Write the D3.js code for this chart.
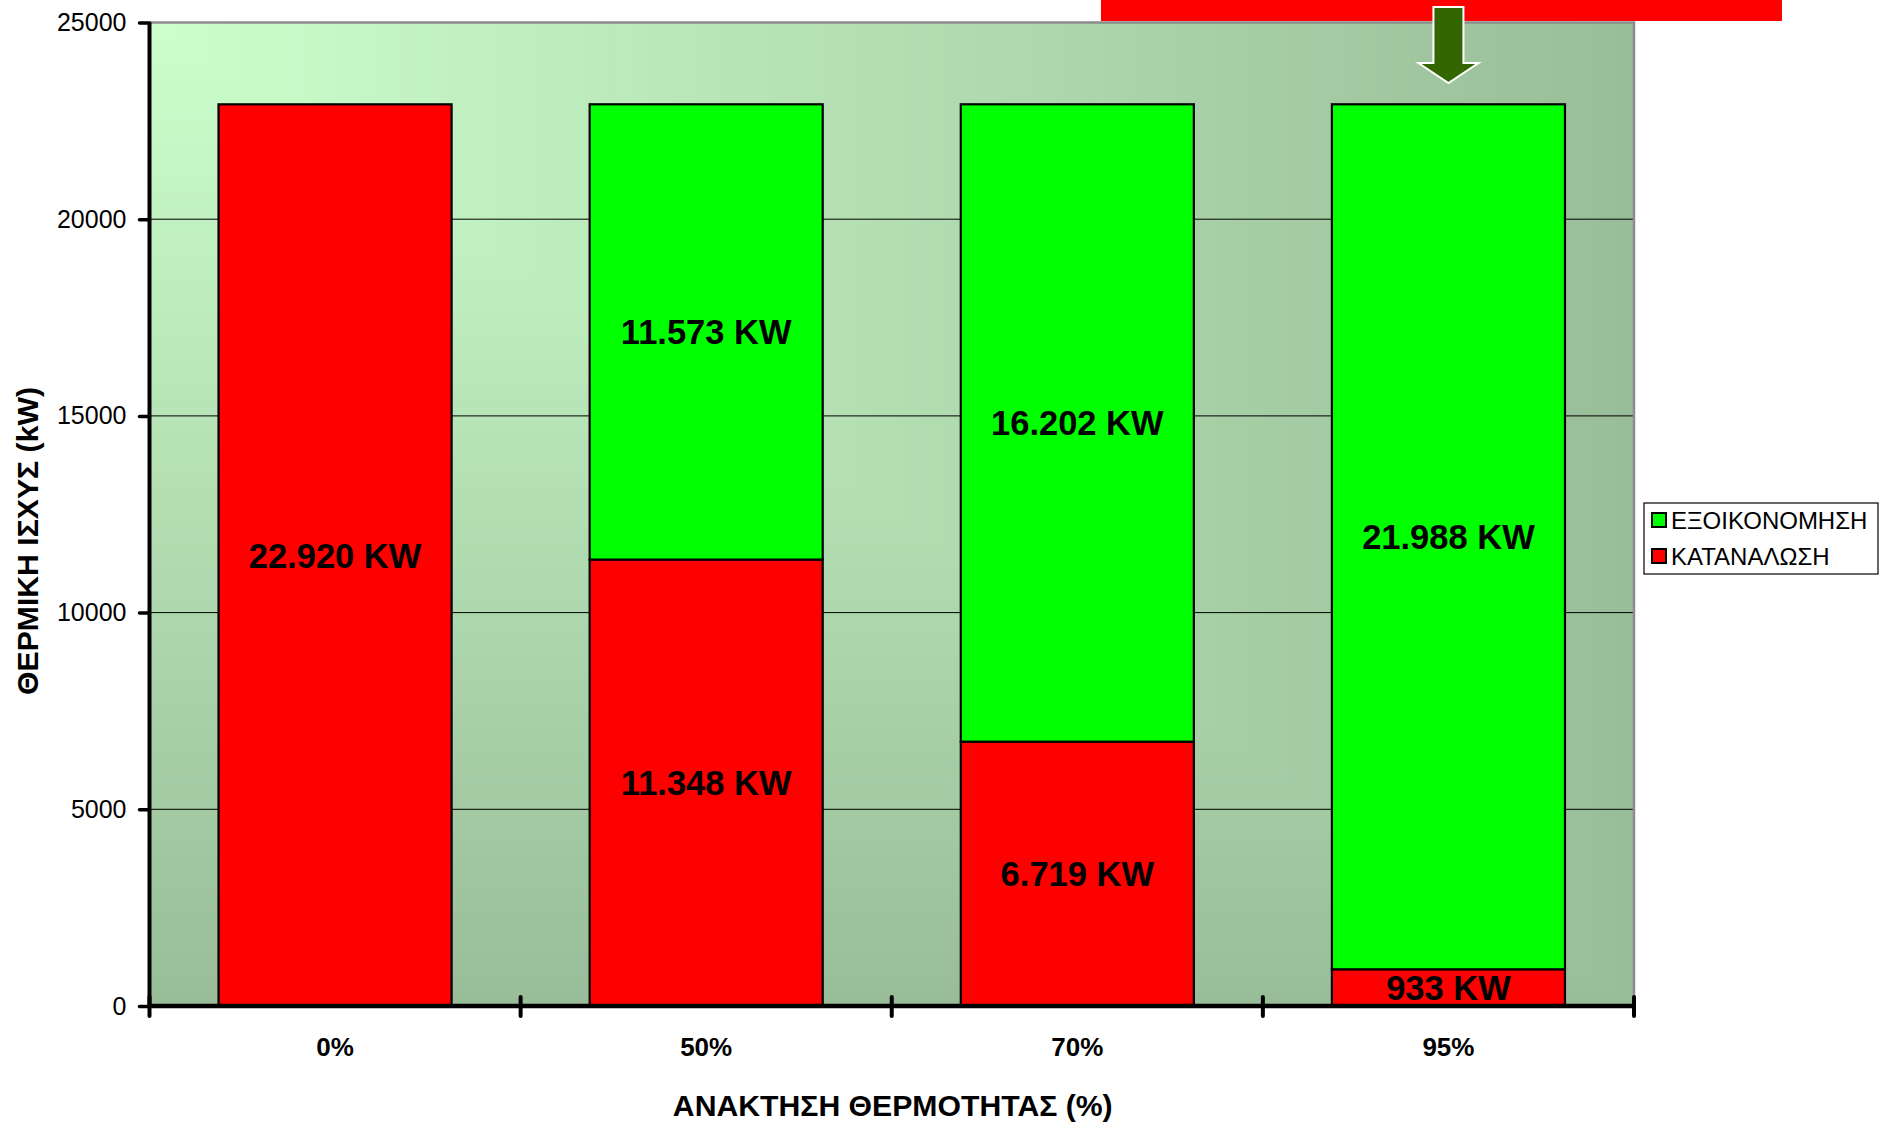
<!DOCTYPE html>
<html>
<head>
<meta charset="utf-8">
<script src="https://cdn.jsdelivr.net/npm/d3@7"></script>
<style>
  body { margin: 0; background: #ffffff; }
  svg { display: block; font-family: "Liberation Sans", Arial, sans-serif; }
</style>
</head>
<body>
<svg id="chart" width="1883" height="1123"></svg>
<script>
// Heat recovery levels and thermal power split (kW)
const categories  = ["0%", "50%", "70%", "95%"];
const consumption = [22920, 11348, 6719, 933];    // ΚΑΤΑΝΑΛΩΣΗ
const savings     = [0, 11573, 16202, 21988];     // ΕΞΟΙΚΟΝΟΜΗΣΗ
const yTicks      = [0, 5000, 10000, 15000, 20000, 25000];
const seriesNames = ["ΕΞΟΙΚΟΝΟΜΗΣΗ", "ΚΑΤΑΝΑΛΩΣΗ"];
const xTitle = "ΑΝΑΚΤΗΣΗ ΘΕΡΜΟΤΗΤΑΣ (%)";
const yTitle = "ΘΕΡΜΙΚΗ ΙΣΧΥΣ (kW)";

const colors = { cons: "#ff0000", save: "#00ff00" };

const svg = d3.select("#chart");
const plot = { left: 149.5, right: 1634, top: 22.5, bottom: 1006 };
const W = plot.right - plot.left, H = plot.bottom - plot.top;

const x = d3.scaleBand().domain(categories)
  .range([plot.left, plot.right]).paddingInner(0.372).paddingOuter(0.186);
const y = d3.scaleLinear().domain([0, 25000]).range([plot.bottom, plot.top]);

// Corner-shaded plot background: light top-left, darker towards right and bottom
const shade = d3.interpolateRgb("#ccffcc", "#99bd98");
const N = 160;
const bg = svg.append("g");
for (let k = N; k >= 1; k--) {
  const t = k / N;
  bg.append("rect")
    .attr("x", plot.left).attr("y", plot.top)
    .attr("width", W * t).attr("height", H * t)
    .attr("fill", shade(t));
}

// Horizontal gridlines
svg.append("g").selectAll("line")
  .data(yTicks.filter(v => v > 0 && v < 25000))
  .join("line")
  .attr("x1", plot.left).attr("x2", plot.right)
  .attr("y1", d => y(d)).attr("y2", d => y(d))
  .attr("stroke", "#000").attr("stroke-width", 1);

// Plot frame (top & right)
svg.append("path")
  .attr("d", `M${plot.left},${plot.top}H${plot.right}V${plot.bottom}`)
  .attr("fill", "none").attr("stroke", "#8c8c8c").attr("stroke-width", 2.5);

// Stacked bars
const rows = categories.map((c, i) => ({ cat: c, cons: consumption[i], save: savings[i] }));
const stacked = d3.stack().keys(["cons", "save"])(rows);

const fmt = d3.formatLocale({ decimal: ",", thousands: ".", grouping: [3], currency: ["", "€"] }).format(",d");

const layers = svg.append("g").selectAll("g").data(stacked).join("g")
  .attr("fill", d => colors[d.key]);

layers.selectAll("rect")
  .data(d => d.filter(s => s[1] - s[0] > 0))
  .join("rect")
  .attr("x", d => x(d.data.cat))
  .attr("width", x.bandwidth())
  .attr("y", d => y(d[1]))
  .attr("height", d => y(d[0]) - y(d[1]))
  .attr("stroke", "#000").attr("stroke-width", 2.2);

// Value labels centred in each segment
const labels = svg.append("g")
  .attr("font-weight", "bold").attr("font-size", 34.5).attr("fill", "#000")
  .attr("text-anchor", "middle");
stacked.forEach(layer => {
  layer.filter(s => s[1] - s[0] > 0).forEach(s => {
    labels.append("text")
      .attr("x", x(s.data.cat) + x.bandwidth() / 2)
      .attr("y", (y(s[0]) + y(s[1])) / 2)
      .attr("dy", "0.36em")
      .text(fmt(s[1] - s[0]) + " KW");
  });
});

// Y axis
const yAxis = svg.append("g")
  .attr("transform", `translate(${plot.left},0)`)
  .call(d3.axisLeft(y).tickValues(yTicks).tickSize(10).tickPadding(13).tickFormat(d3.format("d")));
yAxis.select(".domain").attr("stroke", "#000").attr("stroke-width", 4)
  .attr("d", `M0,${plot.top}V${plot.bottom}`);
yAxis.selectAll(".tick line").attr("stroke", "#000").attr("stroke-width", 3.5).attr("stroke-linecap", "round");
yAxis.selectAll(".tick text").attr("font-size", 25).attr("fill", "#000")
  .attr("font-family", "Liberation Sans, Arial, sans-serif");

// X axis baseline with ticks at category boundaries
const step = x.step();
const bounds = d3.range(categories.length + 1).map(i => plot.left + i * step);
const xAxis = svg.append("g");
xAxis.append("line")
  .attr("x1", plot.left).attr("x2", plot.right)
  .attr("y1", plot.bottom).attr("y2", plot.bottom)
  .attr("stroke", "#000").attr("stroke-width", 4.5);
xAxis.selectAll("line.tk").data(bounds).join("line").attr("class", "tk")
  .attr("x1", d => d).attr("x2", d => d)
  .attr("y1", plot.bottom - 9).attr("y2", plot.bottom + 10)
  .attr("stroke", "#000").attr("stroke-width", 4).attr("stroke-linecap", "round");
xAxis.selectAll("text").data(categories).join("text")
  .attr("x", d => x(d) + x.bandwidth() / 2)
  .attr("y", 1047).attr("dy", "0.36em")
  .attr("text-anchor", "middle").attr("font-weight", "bold").attr("font-size", 26)
  .text(d => d);

// Axis titles
svg.append("text")
  .attr("x", (plot.left + plot.right) / 2 + 1).attr("y", 1105).attr("dy", "0.36em")
  .attr("text-anchor", "middle").attr("font-weight", "bold").attr("font-size", 30.2)
  .text(xTitle);
svg.append("text")
  .attr("transform", `translate(27,541) rotate(-90)`)
  .attr("dy", "0.36em")
  .attr("text-anchor", "middle").attr("font-weight", "bold").attr("font-size", 30.2)
  .text(yTitle);

// Legend
const legend = svg.append("g").attr("transform", "translate(1644,503)");
legend.append("rect").attr("width", 234).attr("height", 71)
  .attr("fill", "#fff").attr("stroke", "#000").attr("stroke-width", 1.2);
const legendColors = [colors.save, colors.cons];
seriesNames.forEach((name, i) => {
  const gy = 10 + i * 36;
  legend.append("rect").attr("x", 8).attr("y", gy).attr("width", 14).attr("height", 14)
    .attr("fill", legendColors[i]).attr("stroke", "#000").attr("stroke-width", 2);
  legend.append("text").attr("x", 27).attr("y", gy + 7).attr("dy", "0.36em")
    .attr("font-size", 24).attr("fill", "#000").text(name);
});

// Banner and pointer arrow at the top right
svg.append("rect").attr("x", 1101).attr("y", -5).attr("width", 681).attr("height", 26)
  .attr("fill", "#ff0000");
const ax = x("95%") + x.bandwidth() / 2;
svg.append("path")
  .attr("d", `M${ax - 15},7H${ax + 15}V63H${ax + 30}L${ax},83L${ax - 30},63H${ax - 15}Z`)
  .attr("fill", "#336600").attr("stroke", "#fff").attr("stroke-width", 2);
</script>
</body>
</html>
